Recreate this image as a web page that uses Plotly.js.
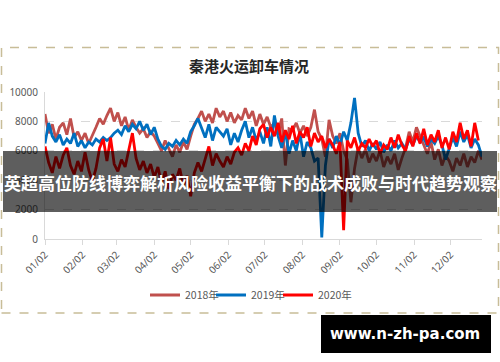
<!DOCTYPE html>
<html>
<head>
<meta charset="utf-8">
<script src="https://cdn.plot.ly/plotly-3.0.1.min.js"></script>
<style>
  html, body { margin: 0; padding: 0; background: #ffffff; }
  #chart { width: 500px; height: 362px; }
</style>
</head>
<body>
<div id="chart"></div>
<script>
// ---- data (one value every 3 days from 01/02) ----
const chartTitle = '秦港火运卸车情况';
const seriesNames = ['2018年', '2019年', '2020年'];
const seriesColors = ['#C0504D', '#0070C0', '#FF0000'];
const startDate = '2019-01-02';
const stepDays = 3;
const yTickVals = [0, 2000, 4000, 6000, 8000, 10000];

const values2018 = [
  8500, 7200, 7800, 6800, 7600, 7900, 7100, 8200, 6900, 7300,
  6700, 7200, 6500, 7000, 7600, 8200, 7800, 8400, 8900, 8000,
  8600, 7700, 8300, 7400, 8100, 7600, 7200, 7500, 6900, 7300,
  7000, 6500, 6000, 6700, 6200, 5600, 6400, 5900, 6600, 6100,
  7000, 7800, 8200, 8700, 8000, 8500, 7900, 8900, 8300, 8700,
  8000, 8600, 7900, 8400, 8100, 8900, 8200, 8700, 7700, 8500,
  7800, 8300, 7600, 7900, 7100, 8200, 5000, 7500, 7400, 7900,
  7200, 7700, 7000, 7600, 8800, 7300, 6800, 5600, 8100, 7000,
  6500, 7200, 6000, 5400, 2500, 4800, 6200, 5500, 6100, 5200,
  5800, 5300, 6000, 4900, 5600, 5100, 5800, 4700, 5500, 6200,
  7300, 6600, 7600, 7000, 6300, 5800, 6600, 5400, 6100, 5000,
  5700, 5300, 4600, 5500, 5000, 5800, 4900, 5600, 5200, 6000,
  5400
];
const values2019 = [
  6500, 7900, 7000, 6600, 7100, 6400, 6800, 6500, 7200, 6300,
  6700, 6200, 6600, 6400, 6800, 6600, 6900, 6700, 6900, 7200,
  7400, 7100, 7700, 7300, 7800, 7500, 8000, 7400, 7800, 7100,
  7600, 6800, 6300, 6100, 6500, 6300, 6700, 6400, 6800, 6500,
  7300, 7700, 8200, 7500, 6900, 7800, 6700, 7600, 7300, 7000,
  7500, 6400, 7200, 6600, 7400, 8000, 6900, 7600, 6700, 7300,
  6500, 7600, 6300, 8400, 7000, 6200, 7300, 5800, 6700, 6000,
  7200, 5600, 6600, 6200, 5300, 5500, 100, 5000, 6800, 6200,
  7000, 6400, 7300, 6700, 7900, 9600, 7200, 6300, 6700, 6000,
  6500, 6100, 6600, 5900, 6400, 6000, 6700, 6200, 6500, 6100,
  6800, 6400, 7000, 6600, 6900, 6300, 6800, 6500, 7000, 6400,
  5400, 6200, 6900, 6300, 7300, 6600, 7100, 6200, 6800, 6400,
  5600
];
const values2020 = [
  6300, 5200, 4500, 5600, 4800, 5700, 6200, 5000, 4400, 5300,
  4600, 5900, 4700, 3900, 4800, 6200, 6800, 5300, 6900, 5100,
  4600, 5400, 4900, 6100, 7200, 5500, 4700, 5300, 4500, 5100,
  4200, 4900, 3800, 4600, 3400, 4400, 4000, 4800, 3600, 4300,
  2900, 4500, 5200, 4600, 5500, 6300, 5000, 5800, 5300, 4900,
  5600, 5100, 5900, 6200, 5700, 6500, 6000, 7000, 6400, 7500,
  7800, 6900, 7600, 7000, 7900, 6600, 7400, 6800, 7700, 6500,
  7300, 6900, 7600, 6300, 7200, 6600, 7000, 6200, 6800, 6400,
  5800, 6600, 600, 6700, 6200, 6900, 6000, 6500, 6200, 6800,
  6300, 6700, 5800, 6400, 6100, 6900, 6200, 7100, 6400, 6000,
  7000, 6300, 7200, 6500, 7500, 6400, 7100, 6600, 7400, 6200,
  6900, 6100, 7300, 6600, 7900, 6800, 7400, 6300, 7900, 6700
];
const bannerText = '英超高位防线博弈解析风险收益平衡下的战术成败与时代趋势观察';
const watermarkText = 'www.n-zh-pa.com';

// ---- build ----
function makeDates(n) {
  const [y, m, d] = startDate.split('-').map(Number);
  const out = [];
  for (let i = 0; i < n; i++) {
    const dt = new Date(Date.UTC(y, m - 1, d + stepDays * i));
    out.push(dt.toISOString().slice(0, 10));
  }
  return out;
}
const legendIds = ['legend', 'legend2', 'legend3'];
const allValues = [values2018, values2019, values2020];
const traces = allValues.map((vals, k) => ({
  type: 'scatter',
  mode: 'lines',
  name: seriesNames[k],
  legend: legendIds[k],
  x: makeDates(vals.length),
  y: vals,
  line: { color: seriesColors[k], width: 2.8 },
  hoverinfo: 'skip'
}));

// pixel geometry of the page
const W = 500, H = 362;
const L = 45, R = 482, T = 92, B = 239;
const px = v => (v - L) / (R - L);
const py = v => (B - v) / (B - T);

const cjk = '"Noto Sans CJK SC", "Noto Sans", sans-serif';
const tickFont = { family: '"Noto Sans", "Noto Sans CJK SC", sans-serif', size: 10, color: '#595959' };

function legendAt(leftPx) {
  return {
    orientation: 'h',
    x: px(leftPx), xanchor: 'left',
    y: py(295), yanchor: 'middle',
    font: { family: cjk, size: 10.5, color: '#595959' },
    itemwidth: 30,
    bgcolor: 'rgba(0,0,0,0)',
    borderwidth: 0
  };
}

const layout = {
  width: W, height: H,
  margin: { l: L, r: W - R, t: T, b: H - B, pad: 0 },
  paper_bgcolor: '#ffffff',
  plot_bgcolor: '#ffffff',
  showlegend: true,
  title: {
    text: chartTitle,
    font: { family: cjk, size: 15, color: '#262626', weight: 700 },
    x: 0.498, xref: 'container', xanchor: 'center',
    y: 1 - 67 / H, yref: 'container', yanchor: 'middle'
  },
  xaxis: {
    type: 'date',
    range: ['2019-01-02', '2019-12-28'],
    tick0: '2019-01-02',
    dtick: 'M1',
    tickformat: '%m/%d',
    tickangle: -45,
    tickfont: tickFont,
    showgrid: false,
    zeroline: false,
    showline: true,
    linecolor: '#d9d9d9',
    linewidth: 1,
    ticks: 'outside',
    ticklen: 5,
    tickcolor: '#d9d9d9',
    fixedrange: true
  },
  yaxis: {
    range: [0, 10000],
    tickvals: yTickVals,
    ticktext: yTickVals.map(String),
    tickfont: tickFont,
    showgrid: true,
    gridcolor: '#d9d9d9',
    griddash: 'dash',
    gridwidth: 1,
    zeroline: false,
    showline: true,
    linecolor: '#d9d9d9',
    linewidth: 1,
    ticks: '',
    ticklabelstandoff: 4,
    fixedrange: true
  },
  legend: legendAt(145),
  legend2: legendAt(211),
  legend3: legendAt(278),
  shapes: [
    { type: 'rect', xref: 'paper', yref: 'paper', layer: 'below',
      x0: px(1.5), x1: px(498.5), y0: py(313), y1: py(47.5),
      line: { color: '#c8bd98', width: 1.5, dash: 'dash' }, fillcolor: 'rgba(0,0,0,0)' },
    { type: 'rect', xref: 'paper', yref: 'paper', layer: 'above',
      x0: px(3), x1: px(497), y0: py(212), y1: py(151),
      line: { width: 0 }, fillcolor: 'rgba(0,0,0,0.63)' },
    { type: 'rect', xref: 'paper', yref: 'paper', layer: 'above',
      x0: px(321), x1: px(491), y0: py(353), y1: py(315),
      line: { width: 0 }, fillcolor: '#000000' }
  ],
  annotations: [
    { xref: 'paper', yref: 'paper', x: px(250), y: py(182),
      xanchor: 'center', yanchor: 'middle', showarrow: false,
      text: bannerText,
      font: { family: cjk, size: 17, color: '#ffffff', weight: 700 } },
    { xref: 'paper', yref: 'paper', x: px(405), y: py(334),
      xanchor: 'center', yanchor: 'middle', showarrow: false,
      text: watermarkText,
      font: { family: '"DejaVu Sans", sans-serif', size: 15, color: '#ffffff', weight: 700 } }
  ]
};

Plotly.newPlot('chart', traces, layout, { staticPlot: true, displayModeBar: false });
</script>
</body>
</html>
